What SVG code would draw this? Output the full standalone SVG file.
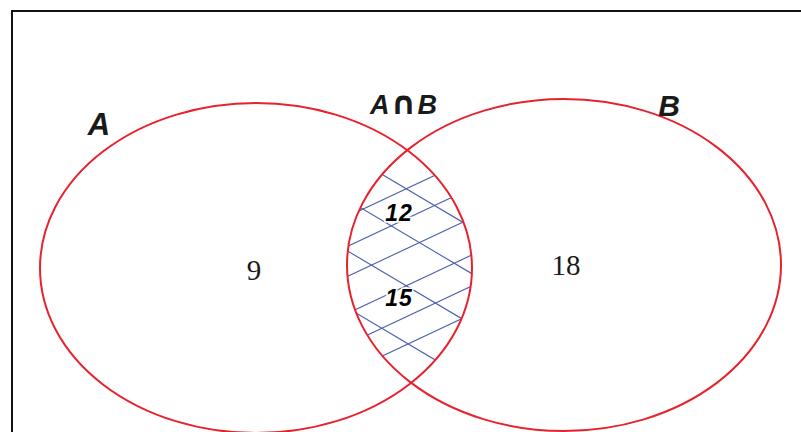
<svg xmlns="http://www.w3.org/2000/svg" width="801" height="432" viewBox="0 0 801 432">
  <style>
    .set { fill: none; stroke: #e8222c; stroke-width: 2; }
    .hatch line { stroke: #4a5fae; stroke-width: 1.1; }
    .lbl { font-family: "Liberation Sans", Arial, sans-serif; font-weight: bold; font-style: italic; fill: #1a1a1a; }
    .num { font-family: "Liberation Serif", "Times New Roman", serif; font-size: 29px; fill: #1a1a1a; text-anchor: middle; }
    .inner { font-family: "Liberation Sans", Arial, sans-serif; font-weight: bold; font-style: italic; font-size: 23px; fill: #000; text-anchor: middle; stroke: #ffffff; stroke-width: 3; paint-order: stroke; letter-spacing: 1px; }
  </style>
  <defs>
    <clipPath id="clipA"><ellipse cx="256" cy="268" rx="216" ry="165"/></clipPath>
    <clipPath id="clipB"><ellipse cx="564" cy="265" rx="217" ry="166"/></clipPath>
  </defs>
  <rect x="0" y="0" width="801" height="432" fill="#ffffff"/>
  <g id="frame">
    <polyline points="12,432 12,11 801,11" fill="none" stroke="#111" stroke-width="2"/>
  </g>
  <g id="intersection-hatch" class="hatch" clip-path="url(#clipA)">
    <g clip-path="url(#clipB)">
      <line x1="340" y1="149.5" x2="480" y2="232.5"/>
      <line x1="340" y1="195.5" x2="480" y2="278.5"/>
      <line x1="340" y1="246.5" x2="480" y2="329.5"/>
      <line x1="340" y1="303.5" x2="480" y2="386.5"/>
      <line x1="340" y1="219.9" x2="480" y2="154.1"/>
      <line x1="340" y1="249.9" x2="480" y2="184.1"/>
      <line x1="340" y1="279.9" x2="480" y2="214.1"/>
      <line x1="340" y1="316.9" x2="480" y2="251.1"/>
      <line x1="340" y1="347.9" x2="480" y2="282.1"/>
      <line x1="340" y1="375.9" x2="480" y2="310.1"/>
    </g>
  </g>
  <g id="setA">
    <ellipse class="set" cx="256" cy="268" rx="216" ry="165"/>
    <text class="lbl" x="99" y="135" font-size="31" text-anchor="middle">A</text>
    <text class="num" x="254" y="280">9</text>
  </g>
  <g id="setB">
    <ellipse class="set" cx="564" cy="265" rx="217" ry="166"/>
    <text class="lbl" x="669" y="116" font-size="30" text-anchor="middle">B</text>
    <text class="num" x="566" y="275">18</text>
  </g>
  <g id="AintersectB">
    <text class="lbl" x="404" y="114" font-size="27" text-anchor="middle" letter-spacing="1">A<tspan font-style="normal" font-size="32" font-family="DejaVu Sans, sans-serif">∩</tspan>B</text>
    <text class="inner" x="399" y="221">12</text>
    <text class="inner" x="399" y="306">15</text>
  </g>
</svg>
